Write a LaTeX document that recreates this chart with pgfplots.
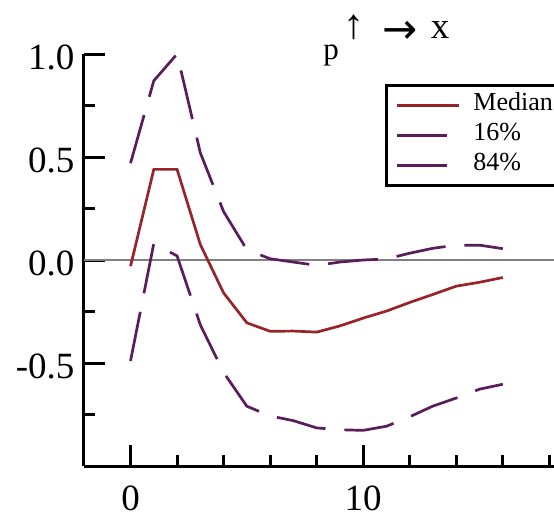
\documentclass[border=0pt]{standalone}
\usepackage{pgfplots}
\pgfplotsset{compat=1.18}
\usepackage{fontspec}
\setmainfont{Liberation Serif}
\newfontfamily\arrowfont{DejaVu Sans}
\definecolor{medred}{RGB}{150,36,40}
\definecolor{bandpur}{RGB}{90,28,90}
\begin{document}
\begin{tikzpicture}
\begin{axis}[
  at={(0pt,0pt)}, anchor=south west,
  scale only axis, width=470pt, height=412pt,
  xmin=-2, xmax=18.2, ymin=-1, ymax=1,
  clip=false,
  axis x line*=bottom, axis y line*=left,
  axis line style={line width=3pt,-},
  tick align=inside,
  xtick={0,10}, xticklabels={0,10},
  minor xtick={2,4,6,8,12,14,16,18},
  ytick={-0.5,0,0.5,1}, yticklabels={-0.5,0.0,0.5,1.0},
  minor ytick={-0.75,-0.25,0.25,0.75},
  major tick length=21pt, minor tick length=11pt,
  every tick/.style={black,line width=3pt},
  tick label style={font=\fontsize{37}{40}\selectfont},
  /pgf/number format/assume math mode=true,
  xticklabel style={yshift=-16pt},
  yticklabel style={yshift=-3pt, xshift=-6pt},
  legend style={at={(0.641,0.927)}, anchor=north west, draw=black, line width=3pt,
    font=\fontsize{26}{30}\selectfont, inner xsep=9pt, inner ysep=5pt,
    column sep=12pt, row sep=0pt,
    nodes={inner sep=0pt, text height=20pt, text depth=10pt}},
  legend cell align=left,
]
\draw[gray, line width=2pt] (axis cs:-2,0) -- (axis cs:18.2,0);
\addplot[medred, line width=2.7pt,
  legend image code/.code={\draw[medred,solid,line width=2.7pt] (0pt,0pt) -- (62pt,0pt);}]
  coordinates {(0,-0.03) (1,0.44) (2,0.44) (3,0.075) (4,-0.16) (5,-0.305) (6,-0.346) (7,-0.345) (8,-0.35) (9,-0.32) (10,-0.282) (11,-0.248) (12,-0.206) (13,-0.167) (14,-0.127) (15,-0.108) (16,-0.085)};
\addlegendentry{Median}
\addplot[bandpur, line width=2.7pt, dash pattern=on 50pt off 19pt,
  legend image code/.code={\draw[bandpur,solid,line width=2.2pt] (0pt,0pt) -- (50pt,0pt); \node[draw=none,fill=none,inner sep=0pt] at (62pt,0pt) {};}]
  coordinates {(0,-0.49) (1,0.08) (2,0.02) (3,-0.315) (4,-0.546) (5,-0.71) (6,-0.757) (7,-0.78) (8,-0.815) (9,-0.824) (10,-0.827) (11,-0.807) (12,-0.761) (13,-0.709) (14,-0.67) (15,-0.627) (16,-0.603)};
\addlegendentry{16\%}
\addplot[bandpur, line width=2.7pt, dash pattern=on 50pt off 19pt,
  legend image code/.code={\draw[bandpur,solid,line width=2.7pt] (0pt,0pt) -- (50pt,0pt); \node[draw=none,fill=none,inner sep=0pt] at (62pt,0pt) {};}]
  coordinates {(0,0.47) (1,0.87) (2,1.0) (3,0.52) (4,0.235) (5,0.05) (6,0.006) (7,-0.01) (8,-0.026) (9,-0.01) (10,0.0) (11,0.005) (12,0.033) (13,0.057) (14,0.072) (15,0.072) (16,0.055)};
\addlegendentry{84\%}
\end{axis}
\node[font=\fontsize{31}{34}\selectfont, anchor=base] at (247pt,406pt) {p};
\node[font=\fontsize{42}{44}\selectfont] at (269.5pt,439pt) {↑};
\node[font=\arrowfont\fontsize{42}{44}\selectfont, inner sep=0pt] at (316pt,434pt) {→};
\node[font=\fontsize{37}{40}\selectfont] at (356pt,436pt) {x};
\pgfresetboundingbox
\path[use as bounding box] (-84pt,-57pt) rectangle (470pt,466pt);
\end{tikzpicture}
\end{document}
